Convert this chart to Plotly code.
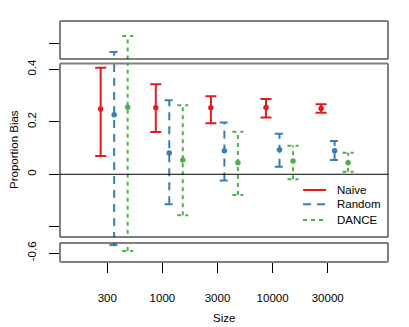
import plotly.graph_objects as go

# sample sizes (categories on the x axis)
sizes = ["300", "1000", "3000", "10000", "30000"]

# proportion bias: estimate and interval ends, per method
naive_est = [0.249, 0.253, 0.253, 0.254, 0.251]
naive_lo = [0.070, 0.161, 0.194, 0.216, 0.234]
naive_hi = [0.406, 0.343, 0.297, 0.287, 0.267]

random_est = [0.227, 0.081, 0.090, 0.093, 0.090]
random_lo = [-0.570, -0.114, -0.024, 0.029, 0.054]
random_hi = [0.566, 0.282, 0.197, 0.154, 0.127]

dance_est = [0.255, 0.054, 0.044, 0.051, 0.044]
dance_lo = [-0.592, -0.156, -0.079, -0.019, 0.010]
dance_hi = [0.627, 0.263, 0.162, 0.109, 0.082]

FONT = "Liberation Sans, Arial, sans-serif"
FS = 11.5

series = [
    # name, est, lo, hi, colour, dash, x offset, cap half width
    ("Naive", naive_est, naive_lo, naive_hi, "#E41A1C", "solid", -0.12, 0.10),
    ("Random", random_est, random_lo, random_hi, "#377EB8", "8px,6px", 0.125, 0.085),
    ("DANCE", dance_est, dance_lo, dance_hi, "#4DAF4A", "4px,4px", 0.37, 0.10),
]

# three stacked panels (broken y axis): bottom, main, top
panels = [("y", [-0.634, -0.562]), ("y2", [-0.239, 0.422]), ("y3", [0.539, 0.684])]

fig = go.Figure()

for name, est, lo, hi, col, dash, off, cap in series:
    xs, ys = [], []
    for i in range(len(sizes)):
        xc = i + 1 + off
        xs += [xc, xc, None, xc - cap, xc + cap, None, xc - cap, xc + cap, None]
        ys += [lo[i], hi[i], None, lo[i], lo[i], None, hi[i], hi[i], None]
    xm = [i + 1 + off for i in range(len(sizes))]
    for yref, _ in panels:
        fig.add_trace(go.Scatter(
            x=xs, y=ys, mode="lines", yaxis=yref, showlegend=False,
            line=dict(color=col, width=2, dash=dash), hoverinfo="skip",
        ))
        fig.add_trace(go.Scatter(
            x=xm, y=est, mode="markers", yaxis=yref, showlegend=False,
            marker=dict(color=col, size=5.5), cliponaxis=True,
        ))

axis_common = dict(
    showgrid=False, zeroline=False, ticks="outside", ticklen=10,
    tickcolor="black", tickwidth=1, tickangle=-90,
    tickfont=dict(family=FONT, size=FS, color="black"), anchor="x",
    showline=False, fixedrange=True, automargin=False, ticklabelstandoff=8,
)

fig.update_layout(
    width=409, height=327,
    margin=dict(l=60, r=21, t=21, b=65),
    paper_bgcolor="white", plot_bgcolor="white",
    font=dict(family=FONT, size=FS, color="black"),
    xaxis=dict(
        range=[0.142, 6.094], showgrid=False, zeroline=False,
        tickvals=[1, 2, 3, 4, 5], ticktext=sizes, ticks="outside",
        ticklen=10, tickcolor="black", tickwidth=1, anchor="y",
        tickfont=dict(family=FONT, size=FS, color="black"),
        ticklabelstandoff=15, showline=False, automargin=False,
        fixedrange=True,
    ),
    yaxis=dict(domain=[0, 0.0788], range=panels[0][1],
               tickvals=[-0.6], ticktext=["-0.6"], **axis_common),
    yaxis2=dict(domain=[0.1037, 0.8237], range=panels[1][1],
                tickvals=[-0.2, 0, 0.2, 0.4], ticktext=["", "0", "0.2", "0.4"],
                **axis_common),
    yaxis3=dict(domain=[0.8423, 1], range=panels[2][1],
                tickvals=[0.6], ticktext=[""], **axis_common),
)

# panel boxes
for dom in ["y domain", "y2 domain", "y3 domain"]:
    fig.add_shape(type="rect", xref="paper", yref=dom, x0=0, x1=1, y0=0, y1=1,
                  line=dict(color="black", width=1), layer="above")
# zero line in the main panel
fig.add_shape(type="line", xref="paper", yref="y2", x0=0, x1=1, y0=0, y1=0,
              line=dict(color="black", width=1))
# heavier grey edges
for dom, yv in [("y3 domain", 1), ("y2 domain", 1), ("y domain", 0)]:
    fig.add_shape(type="line", xref="paper", yref=dom, x0=0, x1=1, y0=yv, y1=yv,
                  line=dict(color="#808080", width=2), layer="above")

# legend drawn by hand
leg_y = [0.2988, 0.2394, 0.1743]
for (name, _, _, _, col, dash, _, _), ly in zip(series, leg_y):
    fig.add_shape(type="line", xref="paper", yref="paper", x0=0.741, x1=0.811,
                  y0=ly, y1=ly, line=dict(color=col, width=2, dash=dash))
    fig.add_annotation(text=name, xref="paper", yref="paper", x=0.838, y=ly,
                       xanchor="left", yanchor="middle", showarrow=False,
                       font=dict(family=FONT, size=FS, color="black"))

fig.add_annotation(text="Proportion Bias", xref="paper", yref="paper",
                   x=-0.14, y=0.465, textangle=-90, showarrow=False,
                   xanchor="center", yanchor="middle",
                   font=dict(family=FONT, size=FS, color="black"))
fig.add_annotation(text="Size", xref="paper", yref="paper", x=0.5, y=-0.232,
                   showarrow=False, xanchor="center", yanchor="middle",
                   font=dict(family=FONT, size=FS, color="black"))

# the page body has a default 8px margin; drop it so the chart sits at 0,0
fig.write_html("out.html", config={"displayModeBar": False},
               post_script="document.body.style.margin='0';")
